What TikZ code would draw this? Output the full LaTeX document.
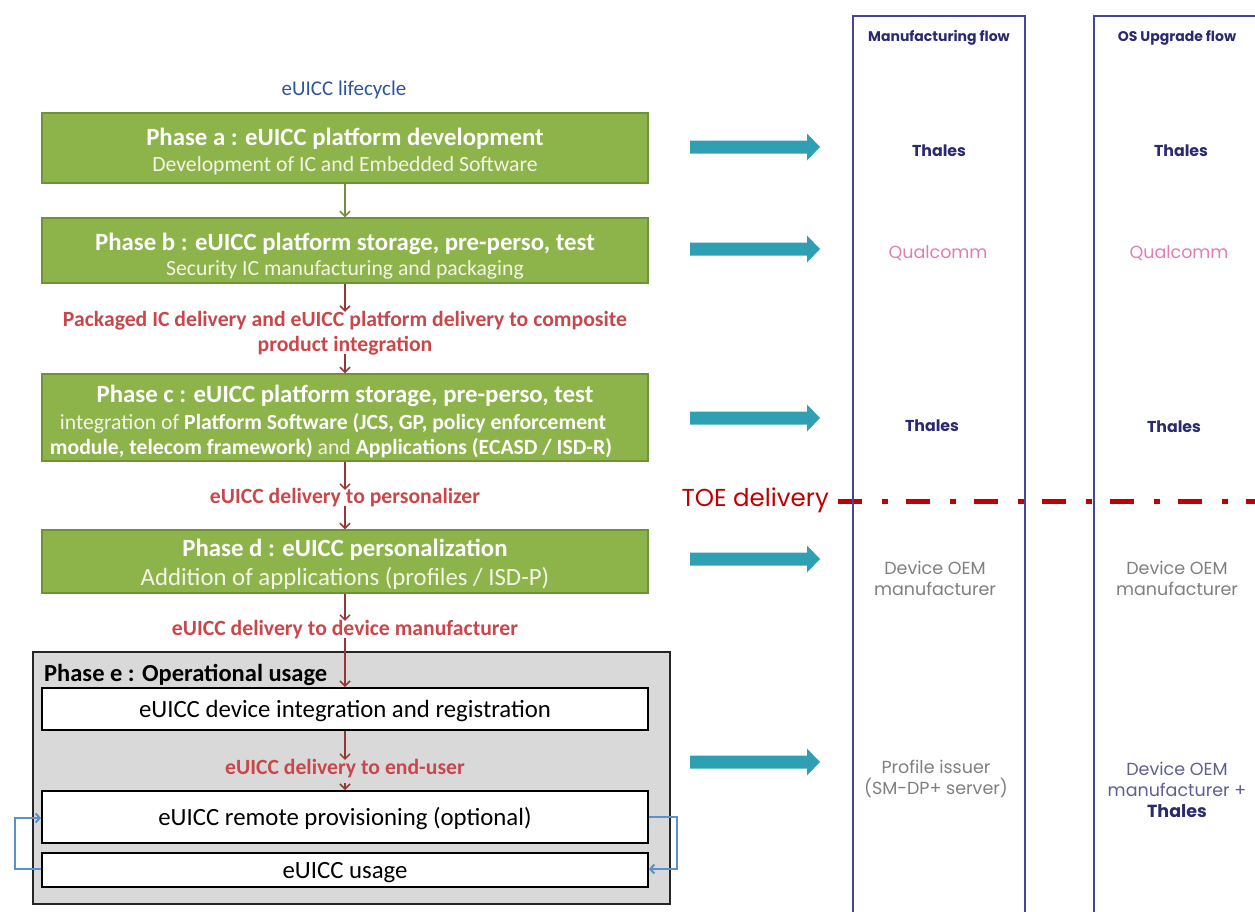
\documentclass[tikz,border=0pt]{standalone}
\usepackage{fontspec}
\setmainfont{Carlito}
\newfontfamily\gothic{Poppins}
\usetikzlibrary{arrows.meta}
\definecolor{grfill}{HTML}{8DB44A}
\definecolor{grdraw}{HTML}{6F9239}
\definecolor{subwhite}{HTML}{F4F4E8}
\definecolor{darkred}{HTML}{953735}
\definecolor{lblred}{HTML}{C9474B}
\definecolor{lifeblue}{HTML}{2F5597}
\definecolor{teal}{HTML}{2F9FB3}
\definecolor{colnavy}{HTML}{45459A}
\definecolor{txtnavy}{HTML}{2A2A6E}
\definecolor{qpink}{HTML}{E27DB3}
\definecolor{txtgray}{HTML}{7F7F7F}
\definecolor{toered}{HTML}{C00000}
\definecolor{egray}{HTML}{D9D9D9}
\definecolor{loopblue}{HTML}{5B8FD0}
\tikzset{
  phasebox/.style={draw=grdraw, line width=1.5pt, fill=grfill, minimum width=606pt, inner sep=0pt},
  ptitle/.style={text=white, font=\bfseries\fontsize{24.8}{28}\selectfont, inner sep=0pt, yshift=-2.5pt},
  psub/.style={text=subwhite, font=\fontsize{21.7}{25}\selectfont, inner sep=0pt, yshift=-2.5pt},
  pbody/.style={text=white, font=\bfseries\fontsize{21.7}{25}\selectfont, inner sep=0pt, yshift=-2pt},
  whitebox/.style={draw=black, line width=2pt, fill=white, minimum width=606pt, align=center, inner sep=0pt, text height=17pt, text depth=0pt, font=\fontsize{24.8}{28}\selectfont},
  redlbl/.style={text=lblred, font=\bfseries\fontsize{21.7}{25}\selectfont, align=center, inner sep=0pt},
  redarr/.style={draw=darkred, line width=1.5pt, -{Straight Barb[length=5pt,width=10pt,line width=1.5pt]}},
  grarr/.style={draw=grdraw, line width=1.5pt, -{Straight Barb[length=5pt,width=10pt,line width=1.5pt]}},
  looparr/.style={draw=loopblue, line width=2pt, -{Straight Barb[length=4pt,width=9pt,line width=2pt]}},
  colbox/.style={draw=colnavy, line width=2pt},
  coltitle/.style={text=txtnavy, font=\gothic\bfseries\fontsize{14}{17}\selectfont, inner sep=0pt},
  actor/.style={font=\gothic\fontsize{17.5}{21}\selectfont, align=center, inner sep=0pt},
  thales/.style={text=txtnavy, font=\gothic\bfseries\fontsize{15.8}{21}\selectfont, inner sep=0pt},
}
\newcommand{\tealarrow}[1]{\fill[teal] (690,#1-6.5) -- (807,#1-6.5) -- (807,#1-13.5) -- (820,#1) -- (807,#1+13.5) -- (807,#1+6.5) -- (690,#1+6.5) -- cycle;}
\begin{document}
\begin{tikzpicture}[x=1pt,y=-1pt]
\useasboundingbox (0,0) rectangle (1255,911);
\begin{scope}
\clip (0,0) rectangle (1255,911);
% title
\node[text=lifeblue, font=\fontsize{21}{24}\selectfont, inner sep=0pt] (life) at (344,90) {eUICC lifecycle};

% phase boxes
\node[phasebox, minimum height=70pt] (pa) at (345,148) {};
\node[ptitle] (pat) at (345,136) {Phase a : eUICC platform development};
\node[psub] (pas) at (345,163) {Development of IC and Embedded Software};

\node[phasebox, minimum height=65pt] (pb) at (345,250.5) {};
\node[ptitle] (pbt) at (345,241) {Phase b : eUICC platform storage, pre-perso, test};
\node[psub] (pbs) at (345,267) {Security IC manufacturing and packaging};

\node[redlbl] (l1) at (345,333) {Packaged IC delivery and eUICC platform delivery to composite\\product integration};

\node[phasebox, minimum height=87pt] (pc) at (345,417.5) {};
\node[ptitle] (pct) at (345,393) {Phase c : eUICC platform storage, pre-perso, test};
\node[pbody] (pc1) at (333,421) {{\mdseries\color{subwhite}integration of }Platform Software (JCS, GP, policy enforcement};
\node[pbody] (pc2) at (331,446) {module, telecom framework) {\mdseries\color{subwhite} and }Applications (ECASD / ISD-R)};

\node[redlbl] (l2) at (345,497.5) {eUICC delivery to personalizer};

\node[phasebox, minimum height=63pt] (pd) at (345,561.5) {};
\node[ptitle] (pdt) at (345,547) {Phase d : eUICC personalization};
\node[psub, font=\fontsize{24.8}{28}\selectfont, yshift=1.5pt] (pds) at (345,577) {Addition of applications (profiles / ISD-P)};

\node[redlbl] (l3) at (345,629.5) {eUICC delivery to device manufacturer};

% phase e
\draw[fill=egray, draw=black!85, line width=2pt] (33,652) rectangle (670,904);
\node[anchor=west, font=\bfseries\fontsize{24.5}{28}\selectfont, inner sep=0pt] (pe) at (44,675) {Phase e : Operational usage};
\node[whitebox, minimum height=42pt] (integ) at (345,709) {eUICC device integration and registration};
\node[redlbl] (l4) at (345,768.5) {eUICC delivery to end-user};
\node[whitebox, minimum height=52pt] (remote) at (345,817) {eUICC remote provisioning (optional)};
\node[whitebox, minimum height=34pt] (usage) at (345,870) {eUICC usage};

% vertical arrows
\draw[grarr] (pa.south) -- (pb.north);
\draw[redarr] (pb.south) -- ([yshift=-1pt]l1.north);
\draw[redarr] ([yshift=1pt]l1.south) -- (pc.north);
\draw[redarr] (pc.south) -- ([yshift=-2pt]l2.north);
\draw[redarr] ([yshift=1pt]l2.south) -- (pd.north);
\draw[redarr] (pd.south) -- ([yshift=-1pt]l3.north);
\draw[redarr] ([yshift=1pt]l3.south) -- (integ.north);
\draw[redarr] (integ.south) -- ([yshift=-1pt]l4.north);
\draw[redarr] ([yshift=-5pt]l4.south) -- (remote.north);

% loops
\coordinate (ll1) at (15,869);
\coordinate (ll2) at (15,818);
\coordinate (rl1) at (677,817);
\coordinate (rl2) at (677,869);
\draw[looparr] (usage.west |- ll1) -- (ll1) -- (ll2) -- (remote.west |- ll2);
\draw[looparr] (remote.east |- rl1) -- (rl1) -- (rl2) -- (usage.east |- rl2);

% TOE delivery line
\node[anchor=east, text=toered, font=\gothic\fontsize{24.5}{28}\selectfont, inner sep=0pt] (toe) at (829,500) {TOE delivery};
\coordinate (toeend) at (1258,501);
\draw[toered, line width=5pt, dash pattern=on 24pt off 20pt on 6pt off 18pt] ([xshift=9pt]toe.east |- toeend) -- (toeend);

% columns
\draw[colbox] (853,16) rectangle (1025,920);
\draw[colbox] (1094,16) rectangle (1268,920);
\node[coltitle] (mt) at (939,38) {Manufacturing flow};
\node[coltitle] (ot) at (1177,38) {OS Upgrade flow};

% teal arrows
\tealarrow{147}
\tealarrow{249}
\tealarrow{418}
\tealarrow{559}
\tealarrow{762}

% actors
\node[thales] (m1) at (939,151) {Thales};
\node[thales] (o1) at (1181,151) {Thales};
\node[actor, text=qpink] (m2) at (938,253) {Qualcomm};
\node[actor, text=qpink] (o2) at (1179,253) {Qualcomm};
\node[thales] (m3) at (932,426) {Thales};
\node[thales] (o3) at (1174,427) {Thales};
\node[actor, text=txtgray] (m4) at (935,578) {Device OEM\\manufacturer};
\node[actor, text=txtgray] (o4) at (1177,578) {Device OEM\\manufacturer};
\node[actor, text=txtgray] (m5) at (936,779) {Profile issuer\\(SM-DP+ server)};
\node[actor, text=txtnavy!75] (o5) at (1177,790) {Device OEM\\manufacturer +\\{\color{txtnavy}\bfseries Thales}};
\end{scope}
\end{tikzpicture}
\end{document}
